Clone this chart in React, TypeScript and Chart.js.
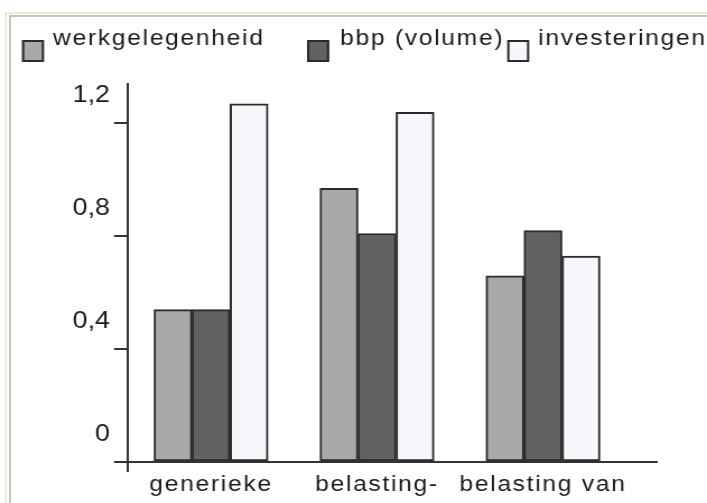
import React, { useEffect, useRef } from 'react';
import { Chart, registerables } from 'chart.js';

Chart.register(...registerables);

// ---- data ----
const CATEGORIES = ['generieke', 'belasting-', 'belasting van'];
const SERIES_LABELS = ['werkgelegenheid', 'bbp (volume)', 'investeringen'];
const WERKGELEGENHEID = [0.54, 0.97, 0.66];
const BBP_VOLUME = [0.54, 0.81, 0.82];
const INVESTERINGEN = [1.27, 1.24, 0.73];
const Y_TICKS = [0, 0.4, 0.8, 1.2];
const Y_MAX = 1.34;
const X_MAX = 3.187;

// ---- styles / layout ----
const W = 707;
const H = 503;
const SX = 1.12; // horizontal stretch of the drawing (canvas is widened by CSS)
const LW = Math.round(W / SX);
const px = (v: number) => v / SX; // CSS px -> logical canvas px (horizontal)
const FONT = '"Liberation Sans", Arial, sans-serif';
const FILLS = ['#a9a9a9', '#626262', '#f7f6fa'];
const EDGE = '#2b2b2b';
const TEXT = '#1a1a1a';
const LEGEND_BOX_X = [22, 307, 507];
const LEGEND_TEXT_X = [53, 340, 538];

const textPlugin = {
  id: 'textStyling',
  beforeDraw(chart: any) {
    chart.ctx.letterSpacing = '1.5px';
  },
  beforeDatasetsDraw(chart: any) {
    chart.ctx.letterSpacing = '0px';
  },
  afterDraw(chart: any) {
    const ctx = chart.ctx;
    ctx.save();
    ctx.letterSpacing = '1.5px';
    ctx.font = `22px ${FONT}`;
    ctx.textBaseline = 'alphabetic';
    ctx.textAlign = 'left';
    chart.data.datasets.forEach((ds: any, i: number) => {
      const bx = px(LEGEND_BOX_X[i]);
      const bw = px(22);
      ctx.fillStyle = ds.backgroundColor;
      ctx.fillRect(bx, 40, bw, 22);
      ctx.lineWidth = 2;
      ctx.strokeStyle = EDGE;
      ctx.strokeRect(bx + 1, 41, bw - 2, 20);
      ctx.fillStyle = TEXT;
      ctx.fillText(ds.label, px(LEGEND_TEXT_X[i]), 45);
    });
    ctx.restore();
  },
};

export default function App() {
  const ref = useRef<HTMLCanvasElement>(null);

  useEffect(() => {
    const canvas = ref.current!;
    const series = [WERKGELEGENHEID, BBP_VOLUME, INVESTERINGEN];
    const chart = new Chart(canvas, {
      type: 'bar',
      data: {
        datasets: series.map((vals, i) => ({
          label: SERIES_LABELS[i],
          data: vals.map((v, j) => ({ x: j + 0.5, y: v })),
          backgroundColor: FILLS[i],
          borderColor: EDGE,
          borderWidth: 2,
          borderSkipped: false,
          barThickness: px(38),
        })),
      },
      options: {
        responsive: false,
        animation: false,
        devicePixelRatio: 1,
        layout: { padding: { top: 84, right: px(50), left: 0, bottom: 0 } },
        plugins: { legend: { display: false }, tooltip: { enabled: false } },
        scales: {
          x: {
            type: 'linear',
            offset: false,
            min: 0,
            max: X_MAX,
            afterBuildTicks: (s: any) => {
              s.ticks = [{ value: 0 }, ...CATEGORIES.map((_, i) => ({ value: i + 0.5 }))];
            },
            afterFit: (s: any) => {
              s.height = 41;
            },
            grid: {
              offset: false,
              drawOnChartArea: false,
              drawTicks: true,
              tickLength: 10,
              lineWidth: 2,
              color: (c: any) => (c.tick && c.tick.value === 0 ? '#333' : 'rgba(0,0,0,0)'),
            },
            border: { display: true, color: '#333', width: 2, z: 1 },
            ticks: {
              autoSkip: false,
              maxRotation: 0,
              minRotation: 0,
              padding: 0,
              color: TEXT,
              font: { family: FONT, size: 22 },
              callback: (v: any) => (v === 0 ? '' : CATEGORIES[Math.floor(v)]),
            },
          },
          y: {
            min: 0,
            max: Y_MAX,
            afterBuildTicks: (s: any) => {
              s.ticks = Y_TICKS.map((v) => ({ value: v }));
            },
            afterFit: (s: any) => {
              s.width = px(128);
            },
            grid: { drawOnChartArea: false, tickLength: px(14), lineWidth: 2, color: '#333' },
            border: { display: true, color: '#333', width: 2 },
            ticks: {
              z: 1,
              padding: px(4),
              labelOffset: -28,
              color: TEXT,
              font: { family: FONT, size: 24 },
              callback: (v: any) => String(v).replace('.', ','),
            },
          },
        },
      },
      plugins: [textPlugin],
    } as any);
    return () => chart.destroy();
  }, []);

  return (
    <div
      style={{
        position: 'absolute',
        left: 0,
        top: 0,
        width: W,
        height: H,
        overflow: 'hidden',
        background: '#ffffff',
      }}
    >
      <div
        style={{
          position: 'absolute',
          left: 5,
          top: 12,
          width: 800,
          height: 600,
          borderTop: '2px solid #ece9d8',
          borderLeft: '2px solid #ece9d8',
        }}
      />
      <div
        style={{
          position: 'absolute',
          left: 9,
          top: 15,
          width: 800,
          height: 600,
          borderTop: '2px solid #c6c6be',
          borderLeft: '2px solid #c6c6be',
        }}
      />
      <canvas
        ref={ref}
        width={LW}
        height={H}
        style={{ position: 'absolute', left: 0, top: 0, width: W, height: H }}
      />
    </div>
  );
}
